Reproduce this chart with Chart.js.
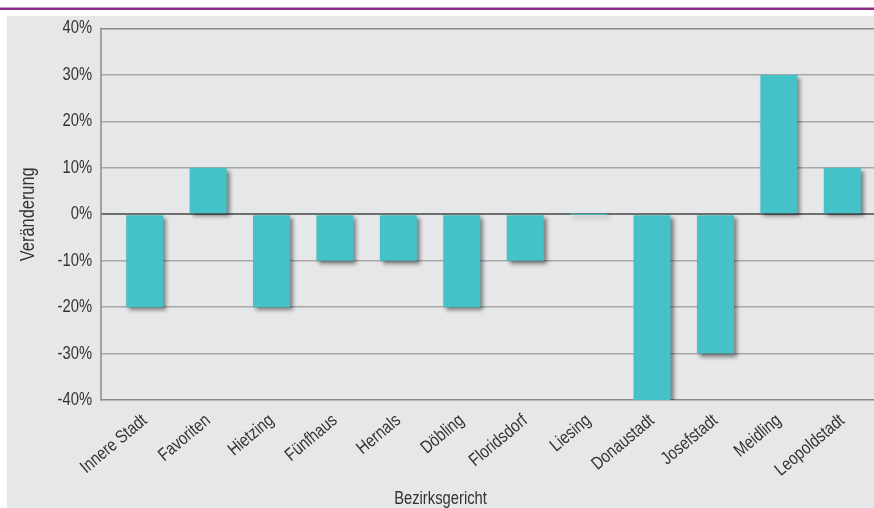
<!DOCTYPE html>
<html>
<head>
<meta charset="utf-8">
<script src="https://cdn.jsdelivr.net/npm/chart.js@4/dist/chart.umd.min.js"></script>
<style>
  html, body { margin: 0; padding: 0; background: #ffffff; width: 874px; height: 508px; overflow: hidden; }
  #topline { position: absolute; left: 0; top: 8px; width: 874px; height: 2px; background: #8b2b88; }
  #topline2 { position: absolute; left: 0; top: 7px; width: 874px; height: 1px; background: #c89ac6; }
  #panel { position: absolute; left: 7px; top: 16px; width: 867px; height: 492px; background: #e6e7e9; }
  canvas { display: block; }
</style>
</head>
<body>
<div id="topline2"></div>
<div id="topline"></div>
<div id="panel"><canvas id="c" width="867" height="492"></canvas></div>
<script>
const categories = ["Innere Stadt", "Favoriten", "Hietzing", "Fünfhaus", "Hernals", "Döbling", "Floridsdorf", "Liesing", "Donaustadt", "Josefstadt", "Meidling", "Leopoldstadt"];
const changes = [-20, 10, -20, -10, -10, -20, -10, 0, -40, -30, 30, 10];
const yTicks = [-40, -30, -20, -10, 0, 10, 20, 30, 40];
const yTitle = "Veränderung";
const xTitle = "Bezirksgericht";

const FONT = "'Liberation Sans', Arial, sans-serif";
const CONDENSE = 0.82;

const canvas = document.getElementById('c');
const ctx2d = canvas.getContext('2d');
const nativeFillText = CanvasRenderingContext2D.prototype.fillText;
ctx2d.fillText = function (text, x, y, maxWidth) {
  this.save();
  this.translate(x, y);
  this.scale(CONDENSE, 1);
  nativeFillText.call(this, text, 0, 0);
  this.restore();
};

const shadowPlugin = {
  id: 'barShadow',
  beforeDatasetsDraw(chart) {
    const ctx = chart.ctx;
    ctx.save();
    ctx.shadowColor = 'rgba(0,0,0,0.45)';
    ctx.shadowOffsetX = 3;
    ctx.shadowOffsetY = 3;
    ctx.shadowBlur = 4;
  },
  afterDatasetsDraw(chart) {
    chart.ctx.restore();
  }
};

const axisLinePlugin = {
  id: 'axisLine',
  afterDraw(chart) {
    const ctx = chart.ctx;
    const a = chart.chartArea;
    const x = a.left - 12;
    ctx.save();
    ctx.strokeStyle = '#8a8a8a';
    ctx.lineWidth = 1.5;
    ctx.beginPath();
    ctx.moveTo(x, a.top - 0.75);
    ctx.lineTo(x, a.bottom + 0.75);
    ctx.stroke();
    ctx.restore();
  }
};

new Chart(canvas, {
  type: 'bar',
  data: {
    labels: categories,
    datasets: [{
      data: changes,
      backgroundColor: '#45c2c8',
      borderWidth: 0,
      minBarLength: 1,
      barPercentage: 0.584,
      categoryPercentage: 1.0
    }]
  },
  options: {
    responsive: false,
    animation: false,
    devicePixelRatio: 1,
    layout: { padding: { left: 0, right: 0, top: 12.5, bottom: 0 } },
    plugins: {
      legend: { display: false },
      tooltip: { enabled: false },
      title: {
        display: true,
        text: xTitle,
        position: 'bottom',
        color: '#333333',
        font: { family: FONT, size: 18, weight: 'normal', lineHeight: 1.0 },
        padding: { top: 0, bottom: 0 }
      }
    },
    scales: {
      x: {
        offset: true,
        grid: { display: false },
        border: { display: false },
        ticks: {
          color: '#333333',
          font: { family: FONT, size: 18 },
          minRotation: 40,
          maxRotation: 40,
          padding: 2,
          autoSkip: false
        },
        afterFit(scale) {
          scale.height = 90;
          scale.paddingLeft = 0;
          scale.paddingRight = 0;
        }
      },
      y: {
        min: -40,
        max: 40,
        afterBuildTicks(scale) { scale.ticks = yTicks.map(v => ({ value: v })); },
        border: { display: false },
        grid: {
          drawTicks: true,
          tickLength: 12,
          color(ctx) {
            const v = ctx.tick && ctx.tick.value;
            if (v === 0) return '#6e6e6e';
            if (v === 40 || v === -40) return '#8a8a8a';
            return '#a8a8a8';
          },
          lineWidth(ctx) {
            const v = ctx.tick && ctx.tick.value;
            if (v === 0) return 2;
            return 1.5;
          }
        },
        ticks: {
          color: '#333333',
          font: { family: FONT, size: 18 },
          padding: 9,
          callback: v => v + '%'
        },
        title: {
          display: true,
          text: yTitle,
          color: '#333333',
          font: { family: FONT, size: 20 },
          padding: { top: 9.5, bottom: 0 }
        },
        afterFit(scale) {
          scale.width = 106;
          scale.paddingTop = 0;
          scale.paddingBottom = 0;
        }
      }
    }
  },
  plugins: [shadowPlugin, axisLinePlugin]
});
</script>
</body>
</html>
